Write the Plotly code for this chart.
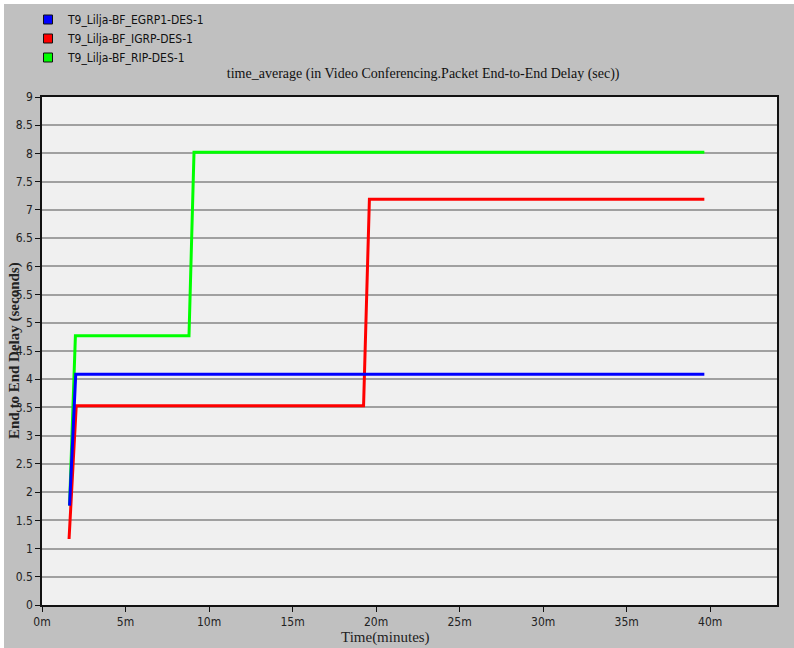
import plotly.graph_objects as go

# ---- data (time in minutes, delay in seconds) ----
egrp_x = [1.65, 2.02, 39.65]
egrp_y = [1.76, 4.09, 4.09]
igrp_x = [1.62, 2.05, 19.25, 19.6, 39.65]
igrp_y = [1.17, 3.53, 3.53, 7.19, 7.19]
rip_x = [1.65, 2.0, 8.8, 9.1, 39.65]
rip_y = [1.76, 4.77, 4.77, 8.02, 8.02]

series_names = ["T9_Lilja-BF_EGRP1-DES-1", "T9_Lilja-BF_IGRP-DES-1", "T9_Lilja-BF_RIP-DES-1"]
series_colors = ["#0000ff", "#ff0000", "#00ff00"]

x_tick_vals = [0, 5, 10, 15, 20, 25, 30, 35, 40]
x_tick_text = ["0m", "5m", "10m", "15m", "20m", "25m", "30m", "35m", "40m"]
y_tick_vals = [i * 0.5 for i in range(19)]
y_tick_text = ["0", "0.5", "1", "1.5", "2", "2.5", "3", "3.5", "4", "4.5", "5",
               "5.5", "6", "6.5", "7", "7.5", "8", "8.5", "9"]

fig = go.Figure()

# lines (green first, blue on top)
for xs, ys, col in [(rip_x, rip_y, series_colors[2]),
                    (igrp_x, igrp_y, series_colors[1]),
                    (egrp_x, egrp_y, series_colors[0])]:
    fig.add_trace(go.Scatter(x=xs, y=ys, mode="lines",
                             line=dict(color=col, width=3),
                             showlegend=False, hoverinfo="skip"))

# legend entries (square swatches)
for name, col in zip(series_names, series_colors):
    fig.add_trace(go.Scatter(x=[None], y=[None], mode="markers", name=name,
                             marker=dict(symbol="square", size=9, color=col,
                                         line=dict(color="#111", width=1))))

narrow = "DejaVu Sans Condensed, Liberation Sans Narrow, Liberation Sans, Arial"
tick_font = dict(family=narrow, size=12, color="#222")

PW, PH = 735, 508

fig.update_layout(
    width=794, height=648,
    paper_bgcolor="#c0c0c0",
    plot_bgcolor="#f0f0f0",
    margin=dict(l=42, r=17, t=97, b=43, autoexpand=False),
    showlegend=True,
    legend=dict(x=-14 / PW, y=1 + 92 / PH, xanchor="left", yanchor="top",
                bgcolor="rgba(0,0,0,0)",
                font=dict(family=narrow, size=12, color="#111"),
                tracegroupgap=0),
    title=dict(text="time_average (in Video Conferencing.Packet End-to-End Delay (sec))",
               x=0.533, xref="container", xanchor="center",
               y=1 - 73 / 648, yref="container", yanchor="middle",
               font=dict(family="Liberation Serif, Times New Roman", size=14, color="#111")),
    xaxis=dict(range=[0, 44], tickvals=x_tick_vals, ticktext=x_tick_text,
               showgrid=False, zeroline=False,
               showline=True, linecolor="#111", linewidth=1.5, mirror=True,
               ticks="outside", ticklen=5, tickcolor="#111",
               tickfont=tick_font),
    yaxis=dict(range=[0, 9], tickvals=y_tick_vals, ticktext=y_tick_text,
               showgrid=True, gridcolor="#a0a0a0", gridwidth=1.5, zeroline=False,
               showline=True, linecolor="#111", linewidth=1.5, mirror=True,
               ticks="outside", ticklen=5, tickcolor="#111",
               tickfont=tick_font),
    annotations=[
        dict(text="<b>End to End Delay (seconds)</b>", textangle=-90,
             xref="paper", yref="paper", x=-28 / PW, y=0.5,
             xanchor="center", yanchor="middle", showarrow=False,
             font=dict(family="Liberation Serif, Times New Roman", size=15, color="#222")),
        dict(text="Time(minutes)", xref="paper", yref="paper",
             x=(385 - 42) / PW, y=-32 / PH, xanchor="center", yanchor="middle",
             showarrow=False,
             font=dict(family="Liberation Serif, Times New Roman", size=15, color="#222")),
    ],
    shapes=[
        dict(type="rect", xref="paper", yref="paper",
             x0=-42 / PW, x1=-38 / PW, y0=-43 / PH, y1=1 + 97 / PH,
             fillcolor="white", line=dict(width=0), layer="above"),
        dict(type="rect", xref="paper", yref="paper",
             x0=-42 / PW, x1=1 + 17 / PW, y0=1 + 93 / PH, y1=1 + 97 / PH,
             fillcolor="white", line=dict(width=0), layer="above"),
    ],
)

fig.write_html("out.html", config={"displayModeBar": False},
               post_script="document.body.style.margin='0';document.body.style.overflow='hidden';")
